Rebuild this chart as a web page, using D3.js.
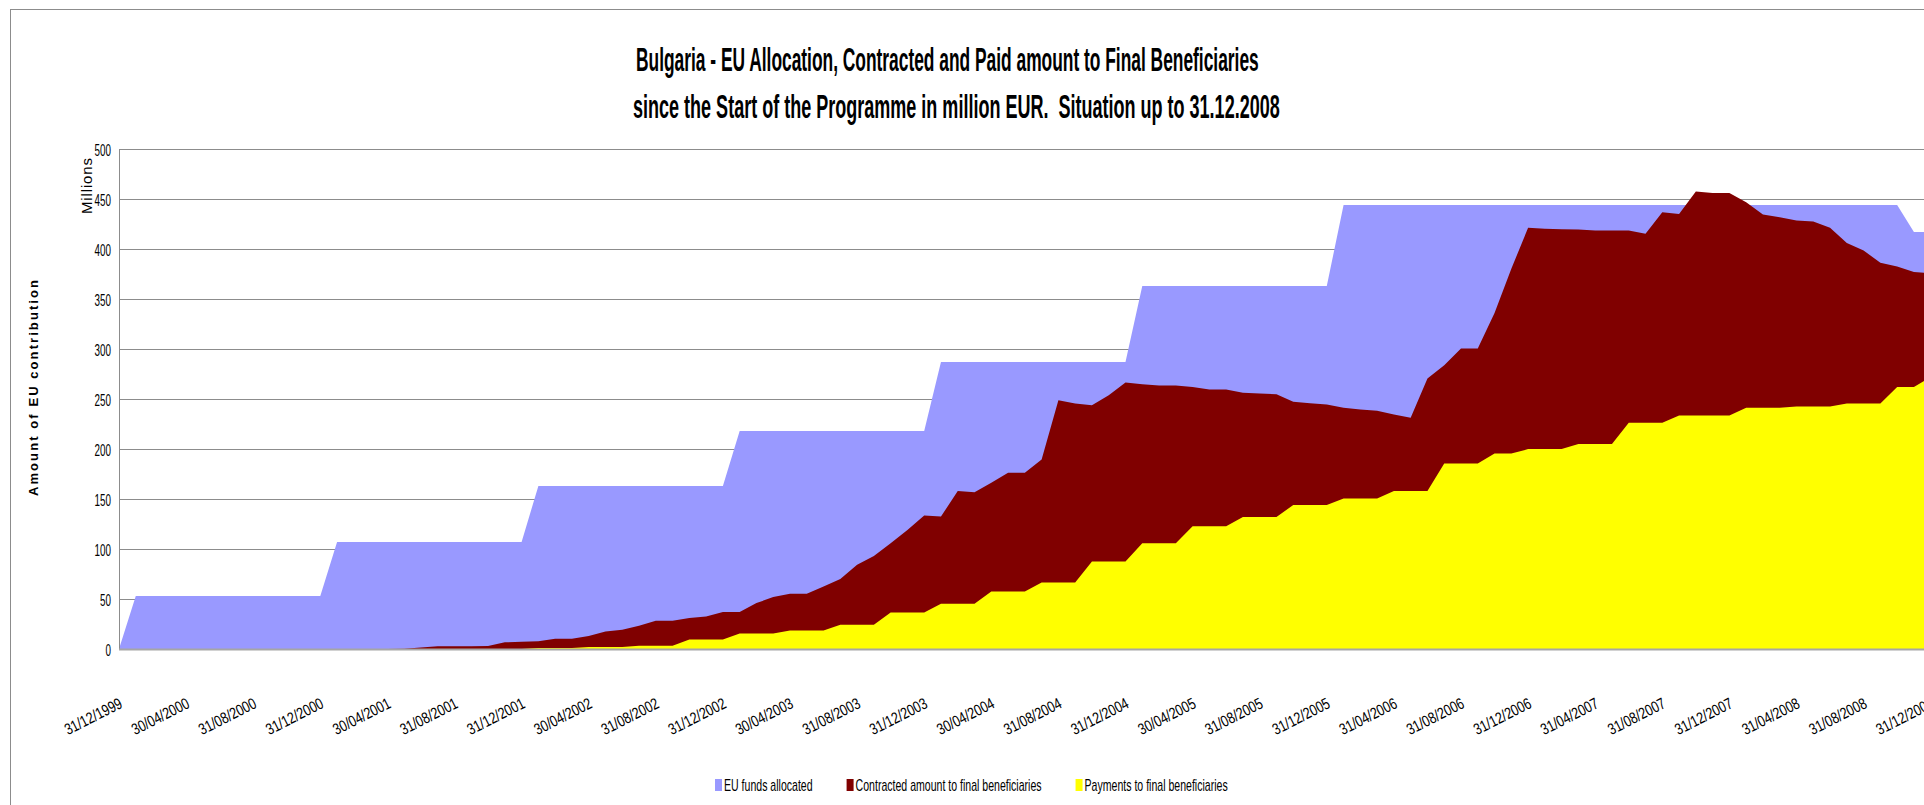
<!DOCTYPE html>
<html>
<head>
<meta charset="utf-8">
<script src="https://cdn.jsdelivr.net/npm/d3@7"></script>
<style>
body { margin: 0; background: #fff; overflow: hidden; }
svg { display: block; font-family: "Liberation Sans", Arial, sans-serif; }
</style>
</head>
<body>
<svg id="chart"></svg>
<script>
// month-end categories 31/12/1999 .. 31/12/2008, one label every 4 months
var tickLabels = ["31/12/1999", "30/04/2000", "31/08/2000", "31/12/2000", "30/04/2001", "31/08/2001",
    "31/12/2001", "30/04/2002", "31/08/2002", "31/12/2002", "30/04/2003", "31/08/2003",
    "31/12/2003", "30/04/2004", "31/08/2004", "31/12/2004", "30/04/2005", "31/08/2005",
    "31/12/2005", "31/04/2006", "31/08/2006", "31/12/2006", "31/04/2007", "31/08/2007",
    "31/12/2007", "31/04/2008", "31/08/2008", "31/12/2008"];

var allocated = [0,
    53, 53, 53, 53, 53, 53, 53, 53, 53, 53, 53, 53,
    107, 107, 107, 107, 107, 107, 107, 107, 107, 107, 107, 107,
    163, 163, 163, 163, 163, 163, 163, 163, 163, 163, 163, 163,
    218, 218, 218, 218, 218, 218, 218, 218, 218, 218, 218, 218,
    287, 287, 287, 287, 287, 287, 287, 287, 287, 287, 287, 287,
    363, 363, 363, 363, 363, 363, 363, 363, 363, 363, 363, 363,
    444, 444, 444, 444, 444, 444, 444, 444, 444, 444, 444, 444,
    444, 444, 444, 444, 444, 444, 444, 444, 444, 444, 444, 444,
    444, 444, 444, 444, 444, 444, 444, 444, 444, 444, 417, 417];

var contracted = [0,
    0, 0, 0, 0, 0, 0, 0, 0, 0, 0, 0, 0,
    0, 0, 0, 0, 0.3, 1.5, 2.7, 2.7, 2.7, 3, 6.7, 7.2,
    7.7, 10.3, 10.3, 13, 17.6, 19.3, 23.3, 28.3, 28.3, 31, 32.6, 36.9,
    36.9, 45.9, 51.9, 55.2, 55.2, 62.5, 69.9, 84.2, 93.1, 105.8, 119.1, 133.4,
    132.4, 158, 156.7, 166.3, 176.3, 176.3, 189.6, 248.8, 245.5, 243.8, 253.8, 266.5,
    264.8, 263.5, 263.5, 262.1, 259.5, 259.5, 256.2, 255.5, 254.8, 247.2, 245.8, 244.5,
    241.2, 239.5, 238.2, 234.5, 231.2, 270.5, 283.8, 300.4, 300.4, 336, 380.2, 421.2,
    420.2, 419.8, 419.5, 418.5, 418.5, 418.5, 415.2, 436.8, 435.1, 457.4, 456.1, 456.1,
    446.8, 434.5, 431.8, 428.5, 427.5, 421.2, 405.9, 398.5, 386.2, 382.6, 376.9, 376];

var payments = [0,
    0, 0, 0, 0, 0, 0, 0, 0, 0, 0, 0, 0,
    0, 0, 0, 0, 0, 0, 0, 0, 0, 0, 0, 0,
    1, 1, 1, 2, 2, 2, 3.3, 3.3, 3.3, 9.5, 9.5, 9.5,
    15.5, 15.5, 15.5, 18.6, 18.6, 18.6, 24.3, 24.3, 24.3, 36.6, 36.6, 36.6,
    45.2, 45.2, 45.2, 57.6, 57.6, 57.6, 66.5, 66.5, 66.5, 87.5, 87.5, 87.5,
    105.8, 105.8, 105.8, 122.8, 122.8, 122.8, 132, 132, 132, 144, 144, 144,
    150.4, 150.4, 150.4, 158, 158, 158, 185.6, 185.6, 185.6, 195.6, 195.6, 199.9,
    199.9, 199.9, 204.9, 204.9, 204.9, 226.2, 226.2, 226.2, 233.5, 233.5, 233.5, 233.5,
    241.2, 241.2, 241.2, 242.5, 242.5, 242.5, 245.5, 245.5, 245.5, 262.1, 262.1, 272];

var seriesNames = ["EU funds allocated", "Contracted amount to final beneficiaries", "Payments to final beneficiaries"];
var seriesColors = ["#9999ff", "#800000", "#ffff00"];
var yTicks = [0, 50, 100, 150, 200, 250, 300, 350, 400, 450, 500];

var width = 1924, height = 805;
var plotLeft = 119, plotTop = 149, plotBottom = 649, monthStep = 16.775;
var months = d3.range(allocated.length);
var plotRight = plotLeft + monthStep * (months.length - 1);

var x = d3.scaleLinear().domain([0, months.length - 1]).range([plotLeft, plotRight]);
var y = d3.scaleLinear().domain([0, 500]).range([plotBottom, plotTop]);

var svg = d3.select("#chart").attr("width", width).attr("height", height);

// the source font is tall and narrow: squeeze glyphs with a horizontal scale
function squeeze(sel, before, k) {
    sel.attr("transform", before + " scale(" + k + ",1)");
}

svg.append("rect")
    .attr("x", 10.5).attr("y", 9.5)
    .attr("width", 2000).attr("height", 1000)
    .attr("fill", "#fff").attr("stroke", "#8c8c8c");

// gridlines
svg.append("g")
    .attr("transform", "translate(" + plotLeft + ",0)")
    .call(d3.axisLeft(y).tickValues(yTicks.slice(1)).tickSize(-(plotRight - plotLeft)).tickFormat(""))
    .call(function (g) { g.select(".domain").remove(); })
    .selectAll("line").attr("stroke", "#8c8c8c");

var area = function (values) {
    return d3.area()
        .x(function (d) { return x(d); })
        .y0(y(0))
        .y1(function (d) { return y(values[d]); })(months);
};

[allocated, contracted, payments].forEach(function (values, k) {
    svg.append("path")
        .attr("d", area(values))
        .attr("fill", seriesColors[k]);
});

// axis lines
svg.append("line")
    .attr("x1", plotLeft + 0.5).attr("x2", plotLeft + 0.5)
    .attr("y1", plotTop).attr("y2", plotBottom)
    .attr("stroke", "#8c8c8c");
svg.append("line")
    .attr("x1", plotLeft).attr("x2", plotRight)
    .attr("y1", plotBottom + 0.5).attr("y2", plotBottom + 0.5)
    .attr("stroke", "#a6a6a6").attr("stroke-width", 2);

// y axis labels
var yAxis = svg.append("g")
    .attr("transform", "translate(" + plotLeft + ",0)")
    .call(d3.axisLeft(y).tickValues(yTicks).tickSize(0));
yAxis.select(".domain").remove();
yAxis.attr("font-family", null).attr("font-size", null);
yAxis.selectAll("text")
    .attr("x", 0).attr("dy", "0.36em")
    .attr("font-size", 17).attr("fill", "#000");
squeeze(yAxis.selectAll("text"), "translate(-8,0)", 0.58);

// x axis labels
var xAxis = svg.append("g")
    .attr("transform", "translate(0," + plotBottom + ")")
    .call(d3.axisBottom(x)
        .tickValues(d3.range(0, months.length, 4))
        .tickFormat(function (d) { return tickLabels[d / 4]; })
        .tickSize(0));
xAxis.select(".domain").remove();
xAxis.attr("font-family", null).attr("font-size", null);
xAxis.selectAll("text")
    .attr("x", 0).attr("y", 0).attr("dy", 0)
    .attr("font-size", 16).attr("fill", "#000")
    .style("text-anchor", "end");
squeeze(xAxis.selectAll("text"), "translate(4,58) rotate(-27)", 0.78);

// titles
[["Bulgaria - EU Allocation, Contracted and Paid amount to Final Beneficiaries", 636, 71, 623],
 ["since the Start of the Programme in million EUR.  Situation up to 31.12.2008", 633, 118, 647]]
    .forEach(function (line) {
        var t = svg.append("text")
            .attr("font-size", 33).attr("font-weight", "bold")
            .attr("xml:space", "preserve")
            .text(line[0]);
        var w = t.node().getComputedTextLength();
        squeeze(t, "translate(" + line[1] + "," + line[2] + ")", line[3] / w);
    });

svg.append("text")
    .attr("transform", "rotate(-90)")
    .attr("x", -388).attr("y", 38)
    .attr("text-anchor", "middle")
    .attr("font-size", 13).attr("font-weight", "bold")
    .attr("textLength", 216).attr("lengthAdjust", "spacing")
    .text("Amount of EU contribution");

svg.append("text")
    .attr("transform", "rotate(-90)")
    .attr("x", -214).attr("y", 92)
    .attr("font-size", 15)
    .attr("textLength", 56).attr("lengthAdjust", "spacing")
    .text("Millions");

// legend
var legendX = 715, legendK = 0.66;
seriesNames.forEach(function (name, k) {
    var item = svg.append("g").attr("transform", "translate(" + legendX + ",779)");
    item.append("rect").attr("width", 7).attr("height", 12).attr("fill", seriesColors[k]);
    var t = item.append("text").attr("font-size", 16).text(name);
    squeeze(t, "translate(9,12)", legendK);
    legendX += 9 + t.node().getComputedTextLength() * legendK + 34;
});
</script>
</body>
</html>
